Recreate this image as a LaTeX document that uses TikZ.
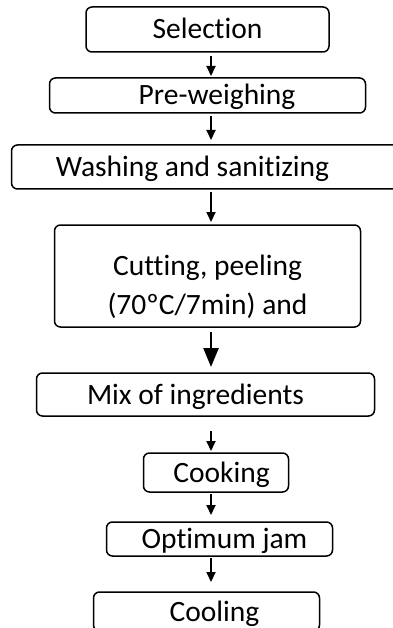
\documentclass[tikz,border=0pt]{standalone}
\usepackage{fontspec}
\setmainfont{Carlito}[Ligatures=NoCommon]
\usetikzlibrary{arrows.meta}
\usetikzlibrary{positioning}

\begin{document}
\begin{tikzpicture}

\tikzstyle{process}=[draw, line width=1.5pt, rounded corners=6pt, inner sep=0pt, outer sep=0pt, text height=19pt, text depth=0pt, font=\fontsize{29.5}{39}\selectfont]
\tikzstyle{line}=[draw, line width=2pt, -{Triangle[width=9pt,length=10pt]}]
\tikzstyle{thick line}=[draw, line width=2.5pt, -{Triangle[width=15pt,length=19pt]}]

\useasboundingbox (0,0) rectangle (392pt,-628pt);

\node[process, minimum width=243pt, minimum height=45pt] (selection) at (207.5pt,-29.5pt) {Selection};
\node[process, minimum width=316pt, minimum height=35pt, below=26pt of selection] (preweighing) {\hspace*{19pt}Pre-weighing};
\node[process, minimum width=392pt, minimum height=44pt, below=32pt of preweighing] (washing) {Washing and sanitizing\hspace*{30pt}};
\node[process, minimum width=306pt, minimum height=102pt, below=36pt of washing, align=center, text height=77pt] (cutting) {Cutting, peeling\\(70ºC/7min) and};
\node[process, minimum width=338pt, minimum height=43pt, below=46pt of cutting, xshift=-2pt] (mix) {Mix of ingredients\hspace*{20pt}};
\node[process, minimum width=145pt, minimum height=39pt, below=37pt of mix, xshift=10.5pt] (cooking) {\hspace*{11pt}Cooking};
\node[process, minimum width=226pt, minimum height=34pt, below=30pt of cooking, xshift=3.5pt] (optimum) {\hspace*{10pt}Optimum jam};
\node[process, minimum width=226pt, minimum height=39pt, below=36pt of optimum, xshift=-13pt] (cooling) {\hspace*{16pt}Cooling};

\coordinate (spine) at (211pt,0);

\path[line, shorten <=4pt, shorten >=2pt] (selection.south -| spine) -- (preweighing.north -| spine);
\path[line, shorten <=3pt, shorten >=5pt] (preweighing.south -| spine) -- (washing.north -| spine);
\path[line, shorten <=3pt, shorten >=3pt] (washing.south -| spine) -- (cutting.north -| spine);
\path[thick line, shorten <=5pt, shorten >=6pt] (cutting.south -| spine) -- (mix.north -| spine);
\path[line, shorten <=15pt, shorten >=2pt] (mix.south -| spine) -- (cooking.north -| spine);
\path[line, shorten <=2pt, shorten >=7pt] (cooking.south -| spine) -- (optimum.north -| spine);
\path[line, shorten <=2pt, shorten >=10pt] (optimum.south -| spine) -- (cooling.north -| spine);

\end{tikzpicture}
\end{document}
